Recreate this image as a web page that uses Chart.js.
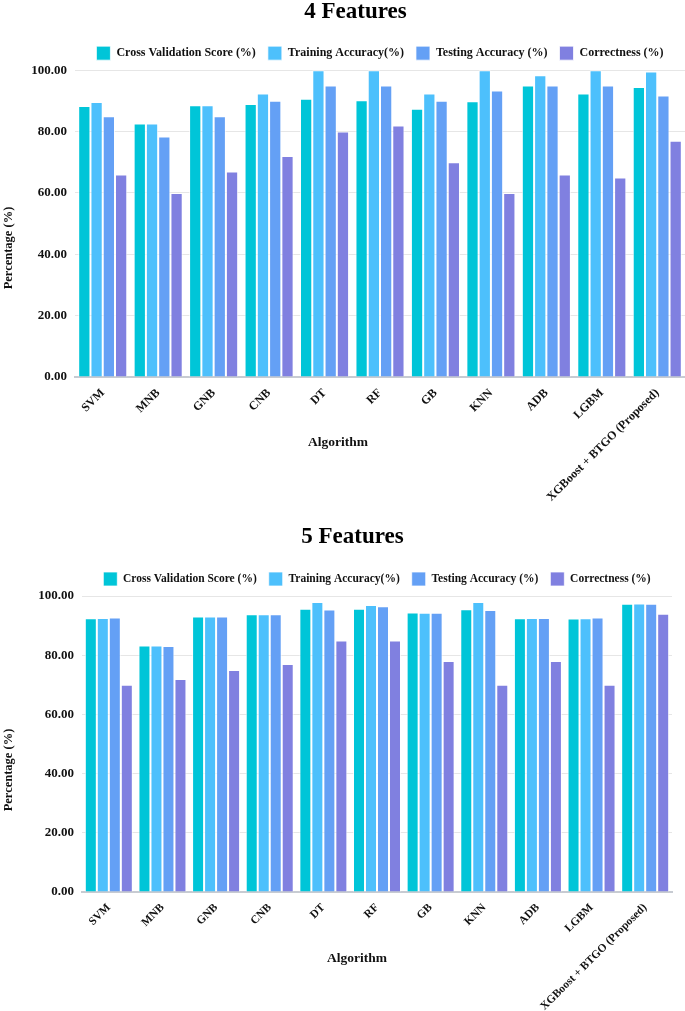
<!DOCTYPE html>
<html lang="en">
<head>
    <meta charset="UTF-8">
    <title>4 and 5 Features</title>
    <script src="https://cdn.jsdelivr.net/npm/chart.js"></script>
    <style>
        body {
            margin: 0;
            background: #ffffff;
            width: 685px;
            height: 1011px;
            overflow: hidden;
            position: relative;
        }
        .chart-box {
            position: absolute;
            left: 0;
            width: 685px;
        }
        #box4 { top: 0; height: 505px; }
        #box5 { top: 525px; height: 486px; }
    </style>
</head>
<body>
    <div class="chart-box" id="box4"><canvas id="chart4"></canvas></div>
    <div class="chart-box" id="box5"><canvas id="chart5"></canvas></div>
    <script>
        const algorithms = ['SVM', 'MNB', 'GNB', 'CNB', 'DT', 'RF', 'GB', 'KNN', 'ADB', 'LGBM', 'XGBoost + BTGO (Proposed)'];
        const seriesNames = ['Cross Validation Score (%)', 'Training Accuracy(%)', 'Testing Accuracy (%)', 'Correctness (%)'];
        const yTicks = [0, 20, 40, 60, 80, 100];

        // 4 features
        const cv4 = [88.3, 82.6, 88.6, 89.0, 90.7, 90.2, 87.4, 89.9, 95.0, 92.4, 94.5];
        const train4 = [89.6, 82.6, 88.6, 92.4, 100, 100, 92.4, 100, 98.3, 100, 99.6];
        const test4 = [85.0, 78.4, 85.0, 90.0, 95.0, 95.0, 90.0, 93.4, 95.0, 95.0, 91.7];
        const corr4 = [66, 60, 67, 72, 80, 82, 70, 60, 66, 65, 77];

        // 5 features
        const cv5 = [92.5, 83.3, 93.1, 93.8, 95.7, 95.7, 94.4, 95.5, 92.5, 92.4, 97.4];
        const train5 = [92.6, 83.3, 93.1, 93.8, 98.0, 97.0, 94.3, 98.0, 92.6, 92.5, 97.5];
        const test5 = [92.7, 83.1, 93.1, 93.8, 95.4, 96.5, 94.3, 95.3, 92.6, 92.7, 97.4];
        const corr5 = [70, 72, 75, 77, 85, 85, 78, 70, 78, 70, 94];

        const colors = ['#00c5d8', '#4dc0fc', '#64a0f5', '#8080e0'];
        const serif = "'Liberation Serif', 'Times New Roman', serif";

        // axis titles are centred on the canvas in the original, not on the plot,
        // so they are drawn here instead of through the scale title option
        const axisTitles = {
            id: 'axisTitles',
            afterDraw(chart, args, opts) {
                const ctx = chart.ctx;
                ctx.save();
                ctx.fillStyle = '#111';
                ctx.font = 'bold 13.5px ' + serif;
                ctx.textAlign = 'center';
                ctx.textBaseline = 'middle';
                ctx.fillText(opts.xText, opts.xPos[0], opts.xPos[1]);
                ctx.translate(opts.yPos[0], opts.yPos[1]);
                ctx.rotate(-Math.PI / 2);
                ctx.font = 'bold 12.5px ' + serif;
                ctx.fillText(opts.yText, 0, 0);
                ctx.restore();
            }
        };

        function makeChart(id, title, values, cfg) {
            new Chart(document.getElementById(id), {
                type: 'bar',
                data: {
                    labels: algorithms,
                    datasets: values.map((v, i) => ({
                        label: seriesNames[i],
                        data: v,
                        backgroundColor: colors[i],
                        borderColor: 'rgba(255,255,255,0.75)',
                        borderWidth: 1,
                        barPercentage: 1.0,
                        categoryPercentage: cfg.catPct
                    }))
                },
                plugins: [axisTitles],
                options: {
                    responsive: true,
                    maintainAspectRatio: false,
                    animation: false,
                    layout: { padding: { left: cfg.padLeft, right: cfg.padRight, top: 0, bottom: 0 } },
                    plugins: {
                        title: {
                            display: true,
                            text: title,
                            color: '#000',
                            font: { family: serif, size: 23, weight: 'bold', lineHeight: 1.05 },
                            padding: { top: 0, bottom: cfg.titleGap }
                        },
                        legend: {
                            position: 'top',
                            fullSize: false,
                            labels: {
                                color: '#111',
                                font: { family: serif, size: cfg.legendSize, weight: 'bold' },
                                boxWidth: 14,
                                boxHeight: 14,
                                padding: cfg.legendPad
                            }
                        },
                        tooltip: { enabled: false },
                        axisTitles: {
                            xText: 'Algorithm',
                            xPos: cfg.xTitle,
                            yText: 'Percentage (%)',
                            yPos: cfg.yTitle
                        }
                    },
                    scales: {
                        x: {
                            afterFit(scale) {
                                scale.height = cfg.xHeight;
                            },
                            grid: { display: false },
                            border: { display: true, color: '#c7cbd2', width: 2 },
                            ticks: {
                                color: '#111',
                                font: { family: serif, size: cfg.tickSize, weight: 'bold' },
                                autoSkip: false,
                                minRotation: 45,
                                maxRotation: 45,
                                padding: 1
                            }
                        },
                        y: {
                            min: 0,
                            max: 100,
                            afterBuildTicks(scale) {
                                scale.ticks = yTicks.map(v => ({ value: v }));
                            },
                            afterFit(scale) {
                                scale.width = 49;
                            },
                            grid: { color: '#e6e6e6', drawTicks: false },
                            border: { display: false },
                            ticks: {
                                color: '#111',
                                font: { family: serif, size: 13, weight: 'bold' },
                                padding: 8,
                                callback: v => v.toFixed(2)
                            }
                        }
                    }
                }
            });
        }

        makeChart('chart4', '4 Features', [cv4, train4, test4, corr4], {
            catPct: 0.885, padLeft: 26, padRight: 0, titleGap: 10, legendPad: 12,
            legendSize: 12, tickSize: 12, xHeight: 128,
            xTitle: [338, 443], yTitle: [9, 248]
        });
        makeChart('chart5', '5 Features', [cv5, train5, test5, corr5], {
            catPct: 0.895, padLeft: 33, padRight: 13, titleGap: 10.85, legendPad: 12,
            legendSize: 11.5, tickSize: 11.4, xHeight: 119,
            xTitle: [357, 434], yTitle: [9, 245]
        });
    </script>
</body>
</html>
